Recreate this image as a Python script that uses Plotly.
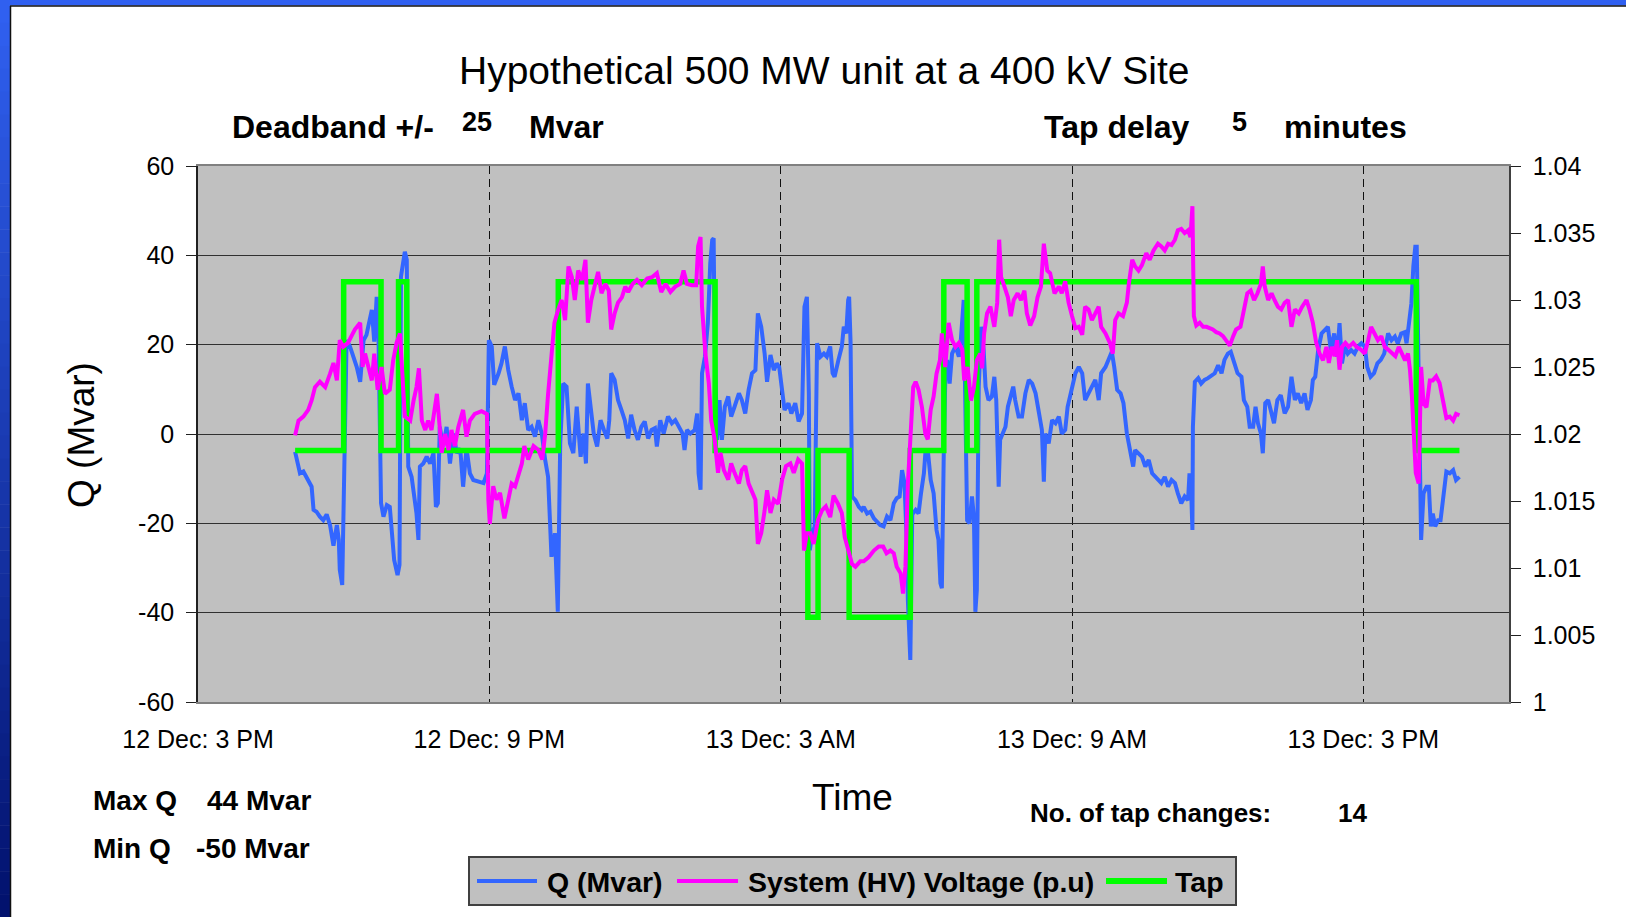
import pandas as pd
import plotly.graph_objects as go

# ---------------- DATA ----------------
# time in hours after 12 Dec 3 PM
Q_HOURS = [2.00, 2.07, 2.10, 2.17, 2.24, 2.34, 2.38, 2.44, 2.51, 2.58, 2.65, 2.72, 2.79, 2.86, 2.90, 2.92, 2.97,
           3.06, 3.13, 3.20, 3.27, 3.34, 3.41, 3.47, 3.54, 3.58, 3.63, 3.68, 3.71, 3.77, 3.82, 3.89, 3.95, 3.99,
           4.04, 4.11, 4.15, 4.18, 4.23, 4.26, 4.30, 4.33, 4.40, 4.44, 4.50, 4.54, 4.57, 4.64, 4.71, 4.78, 4.85,
           4.90, 4.94, 4.98, 5.05, 5.12, 5.19, 5.26, 5.33, 5.40, 5.46, 5.53, 5.60, 5.67, 5.77, 5.88, 5.95, 5.99,
           6.05, 6.10, 6.19, 6.25, 6.32, 6.39, 6.46, 6.53, 6.60, 6.67, 6.73, 6.80, 6.87, 6.94, 7.01, 7.08, 7.15,
           7.21, 7.28, 7.35, 7.41, 7.46, 7.52, 7.59, 7.66, 7.73, 7.80, 7.87,
           7.88, 7.94, 7.99, 8.03, 8.08, 8.15, 8.22, 8.29, 8.36, 8.43, 8.47, 8.51, 8.58, 8.65, 8.72, 8.79, 8.86,
           8.92, 8.99, 9.06, 9.13, 9.20, 9.27, 9.34, 9.41, 9.45, 9.52, 9.59, 9.68, 9.76, 9.83, 9.91, 9.98, 10.02,
           10.07, 10.14, 10.23, 10.28, 10.31, 10.35, 10.38, 10.44, 10.50, 10.55, 10.59, 10.62, 10.64, 10.69,
           10.74, 10.79, 10.85, 10.92, 10.98, 11.05, 11.14, 11.20, 11.27, 11.34, 11.41, 11.48, 11.53, 11.60,
           11.67, 11.72, 11.79, 11.86, 11.92, 11.97, 12.03, 12.08, 12.16, 12.22, 12.30, 12.37, 12.44, 12.49,
           12.54, 12.58, 12.60, 12.65, 12.70, 12.75, 12.82, 12.89, 12.95, 13.02, 13.07, 13.11, 13.19, 13.26,
           13.30, 13.35, 13.39, 13.41, 13.44, 13.47, 13.54, 13.61, 13.67,
           13.71, 13.78, 13.85, 13.92, 13.98, 14.05, 14.12, 14.19, 14.26, 14.33, 14.39, 14.45, 14.50, 14.55,
           14.59, 14.62, 14.67, 14.71, 14.78, 14.84, 14.89, 14.95, 14.98, 15.03, 15.09, 15.15, 15.21, 15.25,
           15.29, 15.32, 15.36, 15.39, 15.43, 15.48, 15.53, 15.60, 15.67, 15.71, 15.77, 15.80, 15.84, 15.89,
           15.94, 15.98, 16.01, 16.04, 16.08, 16.13, 16.18, 16.22, 16.28, 16.35, 16.40, 16.44, 16.49, 16.52,
           16.58, 16.63, 16.68, 16.73, 16.79, 16.83, 16.90, 16.97, 17.04, 17.11, 17.18, 17.25, 17.31, 17.38,
           17.42, 17.45, 17.52, 17.59, 17.66, 17.73, 17.79, 17.86, 17.91, 18.00, 18.07, 18.14, 18.21, 18.27,
           18.34, 18.41, 18.48, 18.55, 18.60, 18.69, 18.78, 18.82, 18.87, 18.93, 19.00, 19.06, 19.13, 19.20,
           19.26, 19.30, 19.37, 19.44, 19.51, 19.58, 19.65,
           19.77, 19.84, 19.91, 19.98, 20.05, 20.12, 20.18, 20.25, 20.32, 20.39, 20.42, 20.46, 20.48, 20.49,
           20.53, 20.60, 20.66, 20.73, 20.80, 20.87, 20.94, 21.01, 21.08, 21.14, 21.21, 21.27, 21.34, 21.41,
           21.49, 21.54, 21.61, 21.66, 21.73, 21.78, 21.83, 21.89, 21.93, 21.98, 22.04, 22.11, 22.16, 22.23,
           22.30, 22.38, 22.45, 22.52, 22.59, 22.65, 22.72, 22.79, 22.85, 22.92, 22.96, 23.01, 23.07, 23.14,
           23.20, 23.27, 23.33, 23.40, 23.46, 23.51, 23.56, 23.62, 23.68, 23.75, 23.82, 23.89, 23.96, 24.03,
           24.08, 24.15, 24.22, 24.29, 24.36, 24.43, 24.51, 24.58, 24.65, 24.71, 24.78, 24.85, 24.89, 24.94,
           24.99, 25.03, 25.07, 25.10, 25.13, 25.16, 25.19, 25.24, 25.30, 25.35, 25.39, 25.43, 25.48, 25.54,
           25.59, 25.64, 25.71, 25.78, 25.85, 25.91, 25.98]
Q_MVAR = [-4.0, -7.3, -8.8, -8.4, -10.0, -11.8, -17.0, -17.4, -18.5, -19.3, -18.0, -20.4, -25.0, -20.4, -23.7, -30.4, -33.8,
          21.0, 19.6, 17.3, 15.0, 11.7, 21.0, 22.2, 25.5, 27.8, 20.7, 30.7, 27.0, -15.5, -18.5, -15.9, -16.3, -20.7,
          -28.2, -31.6, -29.3, 35.2, 39.3, 40.8, 39.0, -7.3, -9.6, -13.3, -17.8, -23.7, -7.3, -6.6, -5.1, -6.6, -4.3,
          -16.3, -15.5, 1.6, -2.8, 1.6, -6.6, 0.1, -4.3, -3.2, -11.8, -3.2, -8.8, -10.3, -10.7, -11.0, -8.8, 21.0,
          19.6, 11.0, 13.6, 15.8, 19.6, 14.3, 10.6, 7.6, 9.1, 3.1, 6.9, 0.9, 1.6, -0.6, 3.1, 0.1, -5.8,
          -9.6, -27.5, -22.2, -39.8, -2.1, 11.3, 10.6, -2.1, -4.3, 6.1, -4.3,
          -5.1, 0.1, -6.6, 11.3, 6.1, 0.1, -2.8, 3.1, 0.9, -1.0, 3.1, 13.6, 12.1, 7.6, 5.4, 3.1, -1.0,
          4.3, 0.9, -1.3, 1.6, 2.8, -1.0, 0.9, 1.3, -2.8, 3.1, 0.1, 3.9, 2.4, 3.1, 1.6, 0.1, -3.6,
          0.9, 0.1, 0.9, 4.6, -8.8, -12.5, 13.6, 17.3, 24.8, 38.2, 43.4, 43.8, 21.0, -1.3,
          7.6, -1.3, 6.1, 8.4, 3.9, 6.1, 9.1, 7.6, 4.6, 9.9, 13.6, 14.3, 27.0, 24.0,
          18.0, 11.7, 17.7, 14.3, 15.8, 15.0, 9.9, 5.4, 6.9, 4.6, 6.9, 2.8, 4.6, 28.5,
          30.7, 9.1, -26.0, -22.2, -20.7, 20.3, 17.3, 18.0, 17.3, 19.6, 13.6, 12.8, 16.6, 19.6,
          24.0, 22.5, 30.0, 30.7, 20.3, -14.0, -14.8, -16.3, -17.0,
          -16.3, -17.8, -17.4, -18.9, -19.6, -20.4, -20.7, -18.5, -19.3, -15.5, -14.4, -14.0, -8.1, -11.0,
          -22.2, -37.2, -50.6, -18.0, -17.0, -17.8, -13.3, -8.8, -4.3, -3.6, -10.3, -13.3, -21.5, -23.7,
          -33.4, -34.5, -3.6, 12.1, 16.6, 11.3, 18.0, 19.6, 17.3, 21.0, 30.0, 0.1, -19.3, -20.0,
          -14.0, -18.5, -39.8, -34.9, 10.6, 24.0, 18.8, 10.6, 7.6, 8.4, 12.8, 7.6, -11.8, -1.3,
          0.1, 1.6, 6.1, 8.4, 10.6, 7.6, 3.9, 3.9, 9.1, 12.1, 11.3, 9.1, 4.6, 0.9,
          -10.7, 0.1, -2.1, 3.1, 2.4, 3.9, 0.1, 0.9, 6.1, 10.6, 13.6, 15.0, 13.6, 7.6,
          9.1, 10.6, 12.1, 7.6, 13.6, 15.0, 17.3, 18.4, 15.0, 9.9, 9.1, 6.9, 0.1, -4.3,
          -7.3, -3.6, -4.3, -5.1, -7.3, -5.8, -8.8,
          -10.3, -11.0, -9.6, -11.8, -10.3, -11.0, -13.3, -15.5, -14.0, -14.8, -8.8, -14.8, -21.5, 1.6,
          11.7, 12.5, 11.3, 12.1, 12.5, 13.2, 13.6, 15.4, 13.6, 16.6, 18.0, 18.4, 15.8, 13.6,
          12.8, 7.6, 6.1, 1.6, 1.6, 6.1, 2.4, 0.1, -4.3, 6.9, 7.6, 4.6, 2.4, 7.6,
          8.7, 4.6, 6.1, 12.8, 7.6, 9.1, 6.9, 9.1, 5.4, 7.6, 12.1, 12.8, 18.8, 22.5,
          23.3, 24.0, 18.8, 22.5, 17.3, 24.8, 15.8, 19.6, 18.0, 18.8, 18.0, 19.6, 20.3, 19.6,
          15.0, 12.8, 13.6, 15.8, 16.6, 18.0, 22.5, 21.0, 21.8, 20.3, 22.5, 22.8, 20.3, 24.8,
          29.3, 37.5, 41.9, 41.9, 13.6, -9.6, -23.7, -13.3, -11.8, -11.8, -20.7, -17.8, -20.7, -19.3,
          -19.3, -14.8, -8.4, -8.8, -8.1, -10.3, -9.6]

V_HOURS = [2.00, 2.07, 2.17, 2.27, 2.34, 2.41, 2.51, 2.62, 2.72, 2.79, 2.86, 2.92, 2.99, 3.09, 3.16, 3.23, 3.34,
           3.39, 3.44, 3.51, 3.58, 3.63, 3.70, 3.78, 3.85, 3.95, 4.02, 4.09, 4.16, 4.26, 4.37, 4.44, 4.50, 4.55,
           4.61, 4.68, 4.74, 4.81, 4.87, 4.92, 4.96, 5.02, 5.09, 5.16, 5.22, 5.29, 5.36, 5.46, 5.53, 5.60, 5.70,
           5.84, 5.95, 5.98, 6.01, 6.08, 6.15, 6.22, 6.31, 6.38, 6.46, 6.53, 6.60, 6.67, 6.72, 6.80, 6.91, 7.01,
           7.09, 7.15, 7.21, 7.28, 7.34, 7.42, 7.49, 7.56, 7.63, 7.70, 7.76, 7.83,
           7.91, 7.98, 8.03, 8.10, 8.17, 8.24, 8.31, 8.39, 8.46, 8.51, 8.58, 8.65, 8.73, 8.80, 8.86, 8.95, 9.04,
           9.14, 9.25, 9.35, 9.45, 9.54, 9.63, 9.73, 9.83, 9.93, 10.00, 10.07, 10.17, 10.26, 10.30, 10.35, 10.38,
           10.45, 10.52, 10.57, 10.64, 10.71, 10.76, 10.83, 10.92, 10.98, 11.05, 11.14, 11.20, 11.27, 11.34,
           11.41, 11.48, 11.53, 11.60, 11.67, 11.72, 11.79, 11.86, 11.95, 12.03, 12.11, 12.20, 12.27, 12.36,
           12.44, 12.48, 12.54, 12.61, 12.68, 12.77, 12.85, 12.93, 13.02, 13.09, 13.18, 13.26, 13.32, 13.40,
           13.47, 13.54, 13.64,
           13.71, 13.81, 13.92, 14.02, 14.11, 14.18, 14.26, 14.33, 14.39, 14.47, 14.52, 14.57, 14.62, 14.67,
           14.73, 14.78, 14.84, 14.91, 14.98, 15.03, 15.09, 15.15, 15.21, 15.28, 15.32, 15.39, 15.46, 15.53,
           15.60, 15.67, 15.74, 15.78, 15.85, 15.92, 15.98, 16.04, 16.11, 16.15, 16.19, 16.25, 16.32, 16.40,
           16.46, 16.50, 16.54, 16.59, 16.68, 16.74, 16.80, 16.88, 16.95, 17.02, 17.07, 17.14, 17.22, 17.29,
           17.36, 17.42, 17.49, 17.55, 17.64, 17.73, 17.79, 17.86, 17.93, 18.00, 18.07, 18.14, 18.21, 18.27,
           18.34, 18.41, 18.48, 18.55, 18.60, 18.69, 18.78, 18.84, 18.89, 18.96, 19.05, 19.13, 19.17, 19.24,
           19.30, 19.37, 19.44, 19.53, 19.60, 19.68,
           19.77, 19.84, 19.91, 19.98, 20.05, 20.12, 20.18, 20.25, 20.32, 20.39, 20.44, 20.48, 20.51, 20.56,
           20.63, 20.70, 20.77, 20.84, 20.90, 20.97, 21.04, 21.11, 21.18, 21.25, 21.32, 21.38, 21.47, 21.54,
           21.61, 21.68, 21.75, 21.82, 21.89, 21.93, 21.97, 22.04, 22.11, 22.17, 22.24, 22.31, 22.38, 22.45,
           22.52, 22.59, 22.67, 22.74, 22.83, 22.89, 22.96, 23.03, 23.10, 23.17, 23.24, 23.29, 23.35, 23.41,
           23.46, 23.51, 23.56, 23.63, 23.70, 23.79, 23.86, 23.95, 24.03, 24.10, 24.16, 24.23, 24.30, 24.37,
           24.44, 24.51, 24.59, 24.66, 24.73, 24.80, 24.86, 24.92, 24.96, 25.00, 25.04, 25.08, 25.14, 25.19,
           25.24, 25.30, 25.37, 25.43, 25.50, 25.57, 25.64, 25.71, 25.78, 25.85, 25.91, 25.98]
V_PU = [1.0199, 1.0210, 1.0213, 1.0218, 1.0225, 1.0235, 1.0239, 1.0235, 1.0245, 1.0253, 1.0240, 1.0270, 1.0265, 1.0268, 1.0273, 1.0278, 1.0283,
        1.0250, 1.0260, 1.0250, 1.0240, 1.0260, 1.0233, 1.0250, 1.0230, 1.0233, 1.0255, 1.0268, 1.0275, 1.0213, 1.0210, 1.0225, 1.0235, 1.0249,
        1.0210, 1.0203, 1.0210, 1.0203, 1.0218, 1.0230, 1.0213, 1.0186, 1.0200, 1.0188, 1.0203, 1.0191, 1.0205, 1.0218, 1.0198, 1.0210, 1.0215,
        1.0217, 1.0215, 1.0151, 1.0133, 1.0161, 1.0151, 1.0156, 1.0137, 1.0151, 1.0163, 1.0161, 1.0171, 1.0178, 1.0191, 1.0181, 1.0191, 1.0188,
        1.0181, 1.0200, 1.0230, 1.0260, 1.0283, 1.0293, 1.0300, 1.0285, 1.0325, 1.0317, 1.0300, 1.0322,
        1.0315, 1.0330, 1.0283, 1.0300, 1.0312, 1.0321, 1.0305, 1.0312, 1.0307, 1.0278, 1.0290, 1.0298, 1.0302, 1.0310, 1.0306, 1.0312, 1.0315,
        1.0311, 1.0316, 1.0317, 1.0320, 1.0306, 1.0312, 1.0306, 1.0310, 1.0312, 1.0322, 1.0312, 1.0311, 1.0311, 1.0340, 1.0347, 1.0295,
        1.0260, 1.0238, 1.0210, 1.0196, 1.0171, 1.0186, 1.0173, 1.0166, 1.0178, 1.0171, 1.0163, 1.0173, 1.0176, 1.0163,
        1.0156, 1.0151, 1.0118, 1.0126, 1.0143, 1.0158, 1.0141, 1.0151, 1.0148, 1.0166, 1.0176, 1.0178, 1.0171, 1.0181,
        1.0178, 1.0113, 1.0126, 1.0126, 1.0118, 1.0136, 1.0143, 1.0146, 1.0138, 1.0154, 1.0148, 1.0141, 1.0123, 1.0113,
        1.0103, 1.0101, 1.0105,
        1.0105, 1.0108, 1.0113, 1.0116, 1.0116, 1.0111, 1.0113, 1.0111, 1.0101, 1.0096, 1.0081, 1.0101, 1.0163, 1.0196,
        1.0235, 1.0239, 1.0233, 1.0220, 1.0200, 1.0196, 1.0218, 1.0228, 1.0245, 1.0255, 1.0275, 1.0250, 1.0283, 1.0270,
        1.0265, 1.0268, 1.0263, 1.0240, 1.0250, 1.0225, 1.0235, 1.0255, 1.0260, 1.0249, 1.0275, 1.0290, 1.0295, 1.0280,
        1.0298, 1.0345, 1.0317, 1.0312, 1.0302, 1.0288, 1.0300, 1.0305, 1.0300, 1.0307, 1.0290, 1.0281, 1.0288, 1.0302,
        1.0310, 1.0342, 1.0322, 1.0320, 1.0305, 1.0310, 1.0305, 1.0314, 1.0298, 1.0288, 1.0279, 1.0280, 1.0274, 1.0295,
        1.0293, 1.0285, 1.0290, 1.0295, 1.0280, 1.0275, 1.0268, 1.0260, 1.0285, 1.0290, 1.0288, 1.0298, 1.0312, 1.0330,
        1.0325, 1.0322, 1.0326, 1.0335, 1.0330, 1.0337,
        1.0342, 1.0340, 1.0337, 1.0342, 1.0341, 1.0345, 1.0352, 1.0353, 1.0350, 1.0352, 1.0347, 1.0370, 1.0288, 1.0281,
        1.0283, 1.0280, 1.0280, 1.0279, 1.0278, 1.0276, 1.0275, 1.0273, 1.0269, 1.0266, 1.0273, 1.0278, 1.0280, 1.0293,
        1.0305, 1.0307, 1.0300, 1.0305, 1.0312, 1.0325, 1.0310, 1.0300, 1.0305, 1.0300, 1.0295, 1.0293, 1.0298, 1.0300,
        1.0280, 1.0293, 1.0290, 1.0295, 1.0300, 1.0293, 1.0283, 1.0268, 1.0260, 1.0255, 1.0265, 1.0253, 1.0265, 1.0258,
        1.0270, 1.0248, 1.0265, 1.0268, 1.0265, 1.0268, 1.0265, 1.0263, 1.0260, 1.0270, 1.0280, 1.0275, 1.0270, 1.0273,
        1.0265, 1.0263, 1.0260, 1.0258, 1.0265, 1.0260, 1.0255, 1.0260, 1.0248, 1.0228, 1.0200, 1.0171, 1.0163, 1.0250,
        1.0223, 1.0220, 1.0240, 1.0240, 1.0243, 1.0238, 1.0225, 1.0212, 1.0213, 1.0210, 1.0215, 1.0214]

TAP_HOURS = [2.00, 3.00, 3.77, 4.13, 4.30, 7.42, 10.65, 12.56, 12.77, 13.41, 14.67, 15.36, 15.84, 16.04, 25.09, 25.98]
TAP_LEVEL = [-3.7, 34.1, -3.7, 34.1, -3.7, 34.1, -3.7, -41.0, -3.7, -41.0, -3.7, 34.1, -3.7, 34.1, -3.7, -3.7]

START = "2008-12-12 15:00"
X_SPAN_HOURS = 27
TICK_HOURS = [0, 6, 12, 18, 24]
TICK_TEXT = ["12 Dec: 3 PM", "12 Dec: 9 PM", "13 Dec: 3 AM", "13 Dec: 9 AM", "13 Dec: 3 PM"]
Q_TICKS = [-60, -40, -20, 0, 20, 40, 60]
Q_TICK_TEXT = ["-60", "-40", "-20", "0", "20", "40", "60"]
V_TICKS = [1.0, 1.005, 1.01, 1.015, 1.02, 1.025, 1.03, 1.035, 1.04]
V_TICK_TEXT = ["1", "1.005", "1.01", "1.015", "1.02", "1.025", "1.03", "1.035", "1.04"]

# ---------------- figure ----------------
base = pd.Timestamp(START)


def to_time(hours):
    return [base + pd.Timedelta(hours=h) for h in hours]


W, H = 1626, 917
ML, MR, MT, MB = 198, 117, 166, 215
PW, PH = W - ML - MR, H - MT - MB


def px(fx):
    return (fx - ML) / PW


def py(fy):
    return (H - MB - fy) / PH


FONT = "Liberation Sans, Arial, sans-serif"
BLUE = "#3366FF"
MAGENTA = "#FF00FF"
GREEN = "#00FF00"

fig = go.Figure()
fig.add_trace(go.Scatter(x=to_time(Q_HOURS), y=Q_MVAR, mode="lines", name="Q (Mvar)",
                         line=dict(color=BLUE, width=4), showlegend=False))
fig.add_trace(go.Scatter(x=to_time(V_HOURS), y=V_PU, mode="lines", name="System (HV) Voltage (p.u)",
                         line=dict(color=MAGENTA, width=4), yaxis="y2", showlegend=False))
fig.add_trace(go.Scatter(x=to_time(TAP_HOURS), y=TAP_LEVEL, mode="lines", name="Tap",
                         line=dict(color=GREEN, width=5.5, shape="hv"), showlegend=False))

shapes = []
# slide frame: blue top strip and gradient left strip
shapes.append(dict(type="rect", xref="paper", yref="paper", x0=px(0), x1=px(W), y0=py(0), y1=py(5.5),
                   fillcolor="#3060F0", line=dict(width=0), layer="above"))
n_bands = 40
c_top = (48, 96, 240)
c_bot = (2, 18, 110)
for i in range(n_bands):
    t = i / (n_bands - 1)
    col = tuple(int(round(c_top[k] + (c_bot[k] - c_top[k]) * t)) for k in range(3))
    y0 = i * H / n_bands
    y1 = (i + 1) * H / n_bands + 0.5
    shapes.append(dict(type="rect", xref="paper", yref="paper", x0=px(0), x1=px(10), y0=py(y0), y1=py(y1),
                       fillcolor="rgb(%d,%d,%d)" % col, line=dict(width=0), layer="above"))
shapes.append(dict(type="line", xref="paper", yref="paper", x0=px(10), x1=px(W), y0=py(6), y1=py(6),
                   line=dict(color="#101010", width=1.5), layer="above"))
shapes.append(dict(type="line", xref="paper", yref="paper", x0=px(10.5), x1=px(10.5), y0=py(6), y1=py(H),
                   line=dict(color="#101010", width=1.5), layer="above"))

# manual legend box
LEG_Y = 881
shapes.append(dict(type="rect", xref="paper", yref="paper", x0=px(469), x1=px(1236), y0=py(857), y1=py(905),
                   fillcolor="#C0C0C0", line=dict(color="#404040", width=2)))
legend_items = [(477, 537, BLUE, 4, "Q (Mvar)", 545),
                (677, 738, MAGENTA, 4, "System (HV) Voltage (p.u)", 746),
                (1106, 1167, GREEN, 6, "Tap", 1173)]
annotations = []
for x0, x1, col, lw, txt, tx in legend_items:
    shapes.append(dict(type="line", xref="paper", yref="paper", x0=px(x0), x1=px(x1), y0=py(LEG_Y), y1=py(LEG_Y),
                       line=dict(color=col, width=lw)))
    annotations.append(dict(text="<b>%s</b>" % txt, x=px(tx), y=py(LEG_Y + 1), xref="paper", yref="paper",
                            xanchor="left", yanchor="middle", showarrow=False, font=dict(size=28.5, color="black")))


def note(text, fx, fy, size, anchor="left", bold=False, angle=0):
    annotations.append(dict(text=("<b>%s</b>" % text) if bold else text, x=px(fx), y=py(fy),
                            xref="paper", yref="paper", xanchor=anchor, yanchor="middle",
                            showarrow=False, textangle=angle, font=dict(size=size, color="black")))


note("Hypothetical 500 MW unit at a 400 kV Site", 824, 71, 39, anchor="center")
note("Deadband +/-", 230, 127, 32, bold=True)
note("25", 460, 122, 27, bold=True)
note("Mvar", 527, 127, 32, bold=True)
note("Tap delay", 1042, 127, 32, bold=True)
note("5", 1230, 122, 27, bold=True)
note("minutes", 1282, 127, 32, bold=True)
note("Q (Mvar)", 81, 435, 37, anchor="center", angle=-90)
note("Time", 852, 797, 37, anchor="center")
note("Max Q", 91, 800, 28, bold=True)
note("44 Mvar", 205, 800, 28, bold=True)
note("Min Q", 91, 848, 28, bold=True)
note("-50 Mvar", 194, 848, 28, bold=True)
note("No. of tap changes:", 1028, 813, 26, bold=True)
note("14", 1336, 813, 26, bold=True)

fig.update_layout(
    width=W, height=H,
    margin=dict(l=ML, r=MR, t=MT, b=MB, pad=0),
    paper_bgcolor="white", plot_bgcolor="#C0C0C0",
    font=dict(family=FONT, color="black"),
    showlegend=False,
    shapes=shapes, annotations=annotations,
    xaxis=dict(type="date", range=[base, base + pd.Timedelta(hours=X_SPAN_HOURS)],
               tickvals=to_time(TICK_HOURS), ticktext=TICK_TEXT, tickfont=dict(size=25),
               showgrid=True, gridcolor="#101010", gridwidth=1, griddash="8px,5px",
               showline=True, linecolor="#808080", linewidth=2, mirror=True, ticks="",
               ticklabelstandoff=14, zeroline=False),
    yaxis=dict(range=[-60, 60], tickvals=Q_TICKS, ticktext=Q_TICK_TEXT, tickfont=dict(size=25),
               showgrid=True, gridcolor="#303030", gridwidth=1, zeroline=False,
               showline=True, linecolor="#202020", linewidth=1.5, ticks="outside", ticklen=10,
               tickcolor="#202020", ticklabelstandoff=7),
    yaxis2=dict(range=[1.0, 1.04], overlaying="y", side="right", tickvals=V_TICKS, ticktext=V_TICK_TEXT,
                tickfont=dict(size=25), showgrid=False, zeroline=False,
                showline=True, linecolor="#404040", linewidth=1.5, ticks="outside", ticklen=10,
                tickcolor="#202020", ticklabelstandoff=7),
)

fig.write_html("out.html", config={"displayModeBar": False},
               post_script="document.body.style.margin='0px';document.body.style.overflow='hidden';")
